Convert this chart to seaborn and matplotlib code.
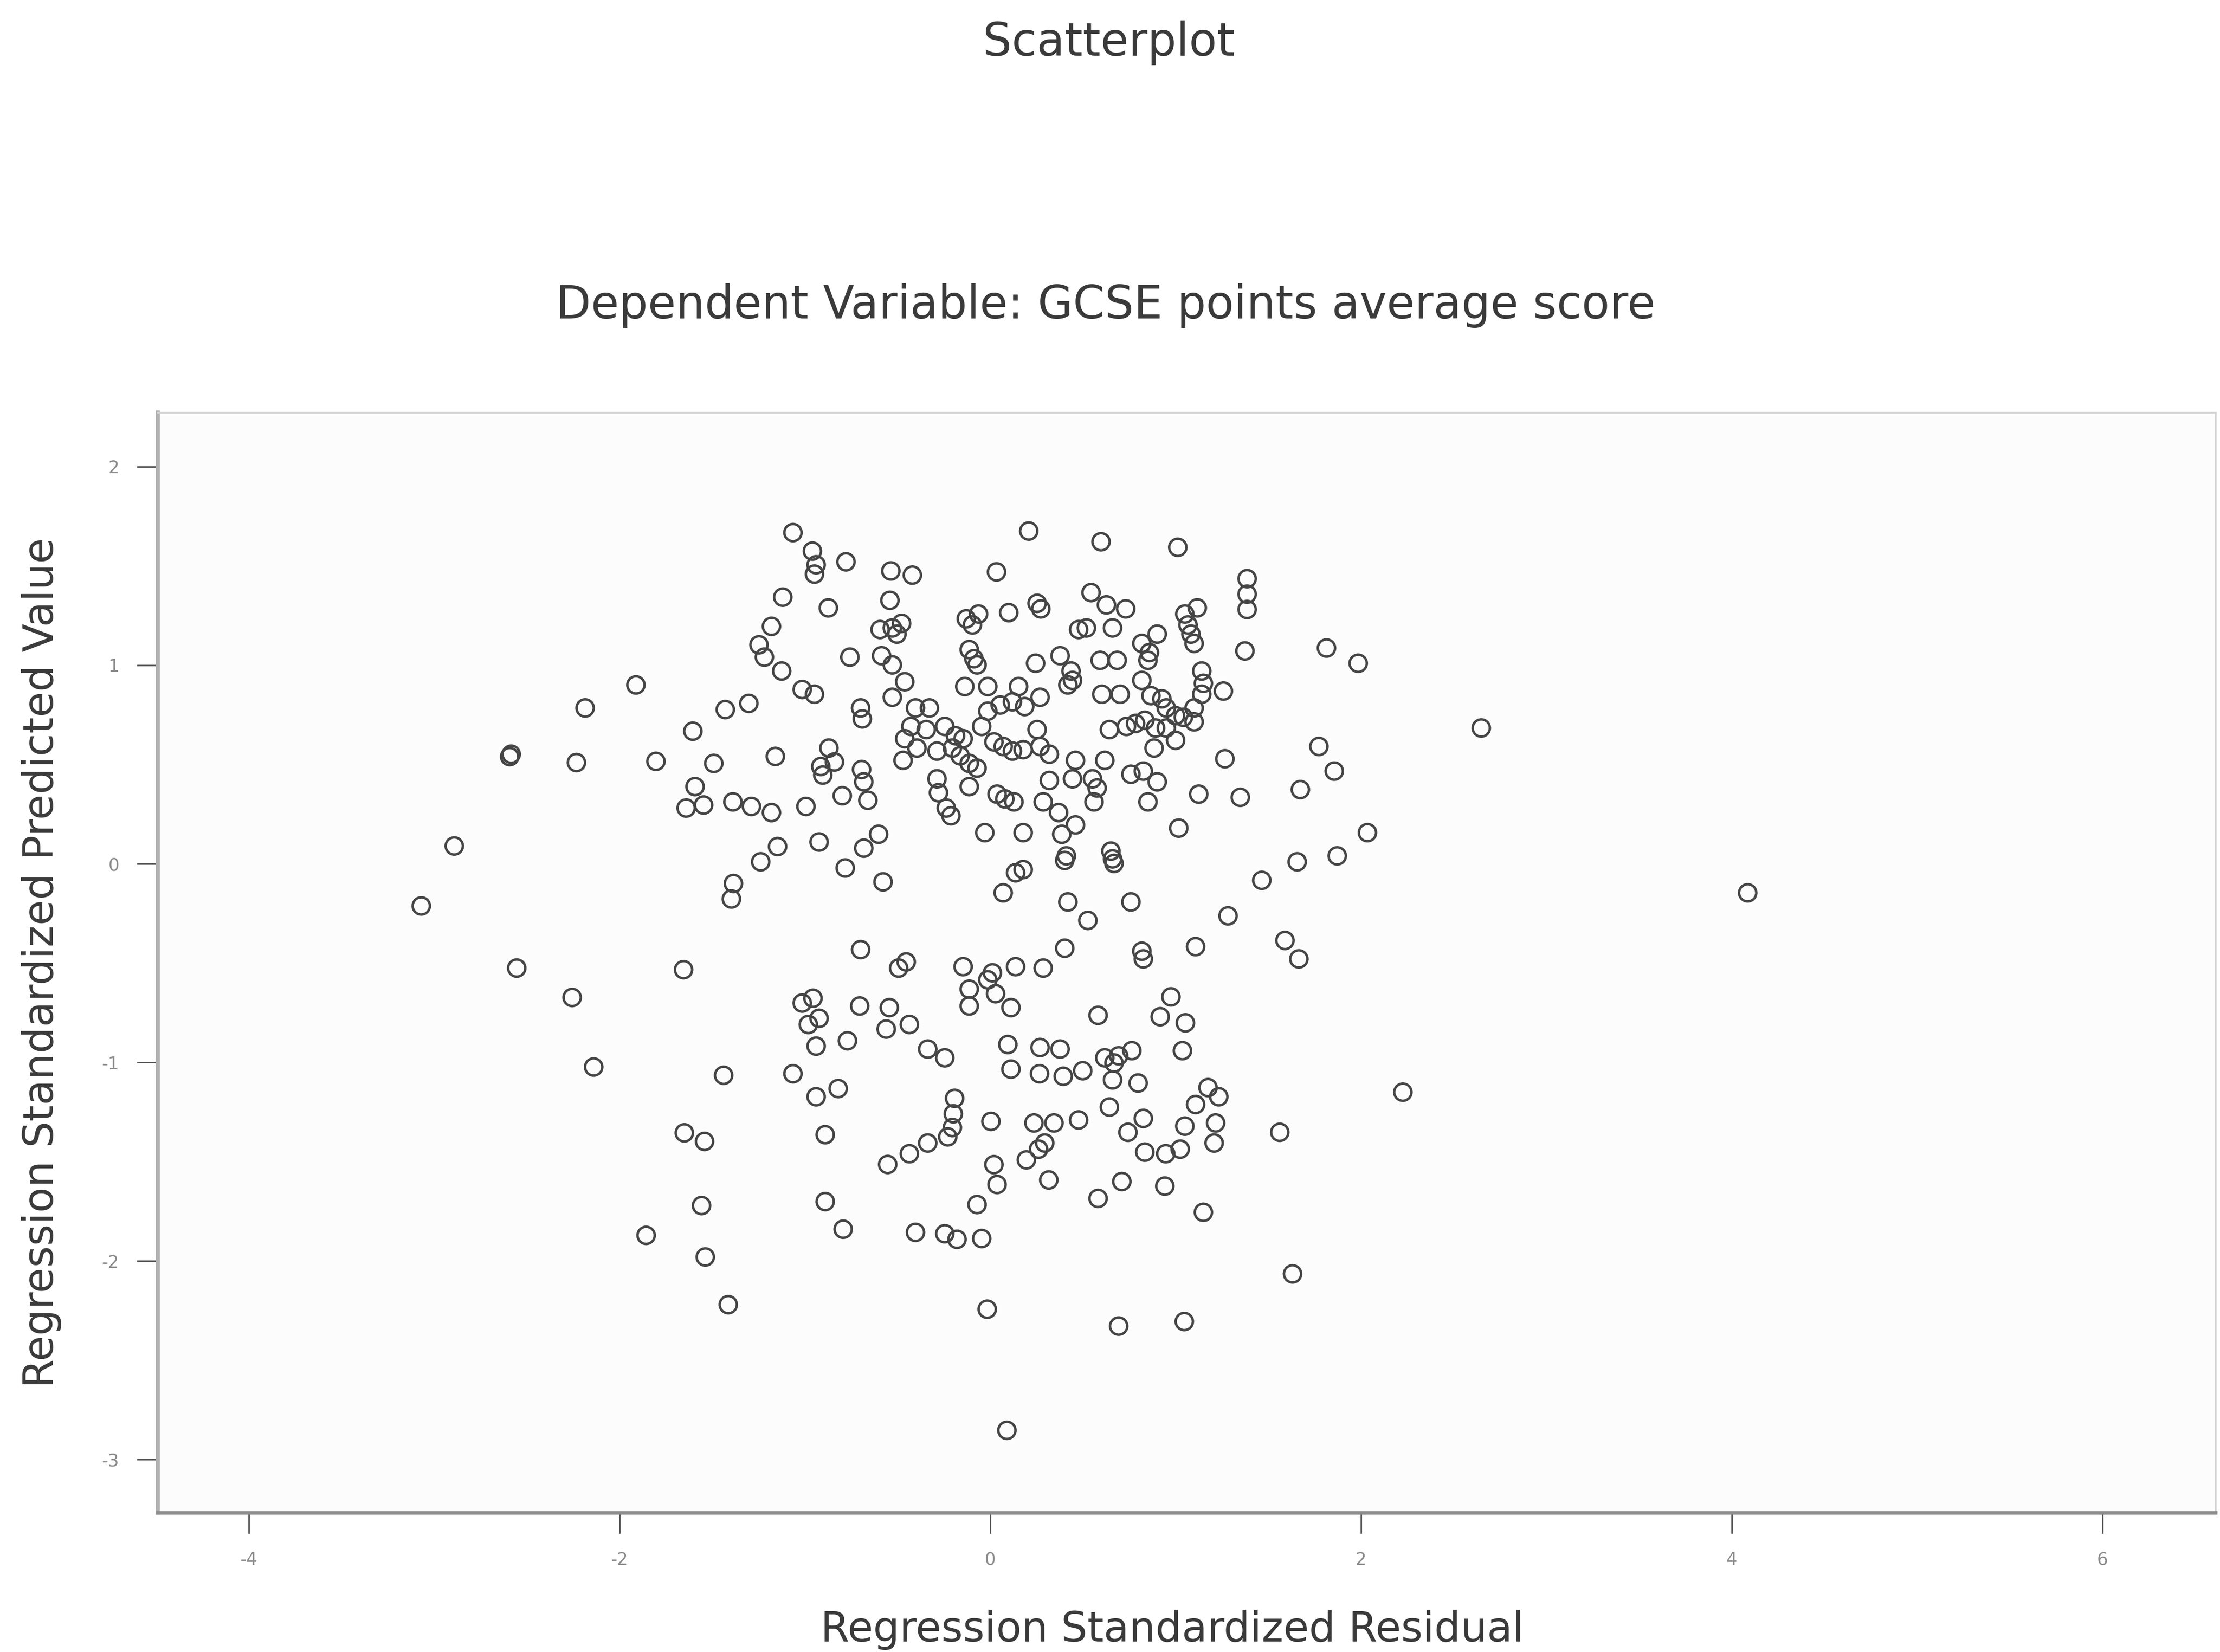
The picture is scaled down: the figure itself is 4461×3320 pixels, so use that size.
import matplotlib
matplotlib.use("Agg")
import matplotlib.pyplot as plt
import seaborn as sns
import pandas as pd

# Regression Standardized Residual (x) and Regression Standardized Predicted Value (y)
residual = [
    -1.064, -0.959, -0.939, -0.948, -0.778, -1.119, -0.873, -1.180, -1.247, -1.218,
    -1.125, -0.757, -1.014, -0.948, -0.699, -0.690, -1.911, -2.185, -1.429, -1.302,
    -1.604, -2.584, -2.592, -2.232, -1.803, -1.491, -1.159, -0.870, -0.840, -0.914,
    -0.903, -0.694, -0.682, -0.798, -0.660, -1.592, -1.640, -1.546, -1.388, -1.288,
    -1.180, -0.994, -1.147, -1.238, -0.923, -0.682, -0.782, -1.385, -1.396, -2.891,
    -3.069, -0.699, -2.554, -1.654,
    0.208, 0.598, 1.012, -0.536, -0.420, 0.034, 1.386, 1.386, 1.386, -0.541,
    0.544, 0.627, 0.731, 0.253, 0.273, 0.100, -0.129, -0.063, -0.096, -0.594,
    -0.528, -0.478, -0.503, 0.477, 0.519, 0.660, 1.050, 1.117, 1.067, 1.083,
    1.100, 1.374, 1.814, 0.901, 0.818, 0.859, 0.851, -0.113, -0.088, -0.071,
    -0.586, -0.528, 0.245, 0.377, 0.436, 0.444, 0.419, 0.593, 0.685, 1.141,
    1.150, 1.258, 1.141, -0.461, -0.528, -0.137, -0.013, 0.153, 0.269, 0.186,
    0.120, 0.054, -0.013, 0.602, 0.701, 0.818, 0.867, 0.926, 0.950, 1.000,
    1.100, 1.100, 1.042, -0.403, -0.328, -0.428, -0.345, -0.245, -0.187, -0.461,
    -0.395, -0.470, -0.287, -0.204, -0.162, -0.113, -0.071, -0.146, -0.046, 0.020,
    0.070, 0.120, 0.178, 0.253, 0.269, 0.319, 0.643, 0.735, 0.784, 0.834,
    0.892, 0.950, 1.000, 0.884, 0.460, 0.618, 1.266, 1.773, 1.856, 1.673,
    -0.287, -0.279, -0.237, -0.212, -0.113, 0.037, 0.079, 0.128, 0.319, 0.286,
    0.444, 0.552, 0.577, 0.560, 0.759, 0.826, 0.901, 0.851, 1.125, 1.349,
    0.369, 0.460, 0.386, 0.411, 0.402, 0.651, 0.668, 0.660, 1.017, -0.602,
    -0.029, 0.178, 0.178, 0.137, -0.578, 0.070, 0.419, 0.527, 0.759, 1.465,
    1.656, 1.872, 1.283, 1.108, 1.590, 1.665, 0.818, 0.826, 0.402, -0.453,
    -0.494, -0.146, 0.137, 0.286, 0.012,
    1.985, 2.649, 2.035, 4.086,
    -2.255, -2.139, -1.438, -1.064, -1.014, -0.956, -0.923, -0.981, -0.939, -0.704,
    -0.770, -0.939, -0.820, -0.890, -1.650, -1.541, -1.557, -1.856, -1.537, -1.413,
    -0.890, -0.793,
    -0.113, 0.029, 0.112, -0.113, -0.013, -0.544, -0.561, -0.436, -0.337, -0.245,
    0.095, 0.112, 0.269, 0.377, 0.266, 0.394, 0.499, 0.582, 0.975, 0.917,
    1.053, 1.037, 0.618, 0.693, 0.764, 0.668, 0.660, 0.798, 0.643, 1.175,
    1.233, 1.108, 1.050, 1.216, 1.208, 1.025, 0.947, 0.834, 0.743, 0.826,
    1.562, -0.192, -0.199, -0.204, -0.229, -0.337, -0.436, -0.553, 0.004, 0.236,
    0.344, 0.294, 0.195, 0.261, 0.477, 0.020, 0.037, 0.316, -0.071, 0.582,
    0.710, 0.942, 1.150, -0.403, -0.245, -0.179, -0.046, 1.631, -0.016, 0.693,
    1.047, 0.090,
    2.226,
]

predicted = [
    1.668, 1.575, 1.506, 1.459, 1.521, 1.343, 1.289, 1.196, 1.103, 1.041,
    0.971, 1.041, 0.878, 0.854, 0.785, 0.730, 0.901, 0.785, 0.777, 0.808,
    0.668, 0.552, 0.540, 0.510, 0.516, 0.506, 0.541, 0.583, 0.513, 0.490,
    0.447, 0.475, 0.413, 0.343, 0.320, 0.389, 0.281, 0.296, 0.312, 0.289,
    0.258, 0.289, 0.087, 0.010, 0.110, 0.079, -0.021, -0.099, -0.177, 0.090,
    -0.212, -0.432, -0.525, -0.533,
    1.676, 1.622, 1.594, 1.475, 1.454, 1.470, 1.436, 1.358, 1.281, 1.327,
    1.366, 1.304, 1.284, 1.312, 1.284, 1.265, 1.234, 1.258, 1.203, 1.180,
    1.188, 1.211, 1.157, 1.180, 1.188, 1.188, 1.258, 1.289, 1.203, 1.157,
    1.110, 1.072, 1.087, 1.157, 1.110, 1.064, 1.025, 1.079, 1.033, 1.002,
    1.048, 1.002, 1.010, 1.048, 0.971, 0.924, 0.901, 1.025, 1.025, 0.971,
    0.909, 0.870, 0.854, 0.917, 0.839, 0.893, 0.893, 0.893, 0.839, 0.792,
    0.816, 0.800, 0.769, 0.854, 0.854, 0.924, 0.847, 0.831, 0.785, 0.746,
    0.785, 0.715, 0.738, 0.785, 0.785, 0.692, 0.676, 0.692, 0.645, 0.630,
    0.583, 0.521, 0.568, 0.583, 0.544, 0.506, 0.482, 0.630, 0.692, 0.614,
    0.591, 0.568, 0.575, 0.676, 0.591, 0.552, 0.676, 0.692, 0.707, 0.723,
    0.684, 0.684, 0.622, 0.583, 0.521, 0.521, 0.529, 0.591, 0.467, 0.374,
    0.428, 0.358, 0.281, 0.242, 0.389, 0.351, 0.327, 0.312, 0.420, 0.312,
    0.428, 0.428, 0.382, 0.312, 0.451, 0.467, 0.413, 0.312, 0.351, 0.335,
    0.258, 0.196, 0.149, 0.040, 0.017, 0.064, 0.002, 0.025, 0.180, 0.149,
    0.157, 0.157, -0.029, -0.045, -0.091, -0.146, -0.192, -0.285, -0.192, -0.083,
    0.010, 0.040, -0.262, -0.417, -0.386, -0.479, -0.440, -0.479, -0.425, -0.494,
    -0.525, -0.518, -0.518, -0.525, -0.549,
    1.010, 0.684, 0.157, -0.146,
    -0.673, -1.023, -1.065, -1.057, -0.701, -0.677, -0.778, -0.809, -0.918, -0.716,
    -0.891, -1.173, -1.132, -1.364, -1.355, -1.398, -1.721, -1.871, -1.980, -2.220,
    -1.701, -1.840,
    -0.631, -0.654, -0.724, -0.716, -0.584, -0.724, -0.832, -0.809, -0.933, -0.977,
    -0.910, -1.034, -0.925, -0.933, -1.057, -1.070, -1.042, -0.763, -0.670, -0.770,
    -0.801, -0.941, -0.977, -0.967, -0.941, -1.003, -1.088, -1.104, -1.225, -1.127,
    -1.173, -1.212, -1.321, -1.305, -1.406, -1.437, -1.460, -1.452, -1.352, -1.282,
    -1.352, -1.181, -1.259, -1.328, -1.375, -1.406, -1.460, -1.514, -1.297, -1.305,
    -1.305, -1.406, -1.491, -1.437, -1.290, -1.515, -1.615, -1.592, -1.716, -1.685,
    -1.600, -1.623, -1.755, -1.856, -1.863, -1.891, -1.887, -2.065, -2.243, -2.328,
    -2.305, -2.853,
    -1.150,
]

x_ticks = [-4, -2, 0, 2, 4, 6]
y_ticks = [-3, -2, -1, 0, 1, 2]

title_text = "Scatterplot"
subtitle_text = "Dependent Variable: GCSE points average score"
x_label = "Regression Standardized Residual"
y_label = "Regression Standardized Predicted Value"

df = pd.DataFrame({"resid": residual, "pred": predicted})

sns.set_theme(style="white")
plt.rcParams["font.family"] = ["DejaVu Sans"]

fig = plt.figure(figsize=(44.61, 33.2), dpi=100)
fig.patch.set_facecolor("white")
ax = fig.add_axes([0.0711, 0.0843, 0.9269, 0.666])
ax.set_facecolor("#fcfcfc")

sns.scatterplot(data=df, x="resid", y="pred", ax=ax, marker="o", s=620,
                facecolors="none", edgecolor="#454545", linewidth=3.6,
                legend=False, zorder=3)
pts = ax.collections[0]
pts.set_facecolor("none")
pts.set_edgecolor("#454545")
pts.set_linewidth(3.6)

ax.set_xlim(-4.49, 6.61)
ax.set_ylim(-3.268, 2.273)
ax.set_xticks(x_ticks)
ax.set_yticks(y_ticks)
ax.set_xticklabels([str(t) for t in x_ticks])
ax.set_yticklabels([str(t) for t in y_ticks])
ax.tick_params(axis="both", which="major", direction="out", length=30, width=2.2,
               color="#555555", labelsize=25, labelcolor="#8a8a8a", pad=26)
ax.tick_params(axis="x", bottom=True, top=False)
ax.tick_params(axis="y", left=True, right=False)

for side in ["top", "right"]:
    ax.spines[side].set_color("#d4d4d4")
    ax.spines[side].set_linewidth(2.5)
ax.spines["left"].set_color("#b0b0b0")
ax.spines["left"].set_linewidth(6)
ax.spines["bottom"].set_color("#8c8c8c")
ax.spines["bottom"].set_linewidth(5)

ax.set_xlabel(x_label, fontsize=60, color="#3a3a3a", labelpad=60)
ax.xaxis.label.set_x(0.493)
ax.set_ylabel(y_label, fontsize=60, color="#3a3a3a", labelpad=58)

fig.text(0.4994, 0.974, title_text, ha="center", va="center", fontsize=66, color="#3a3a3a")
fig.text(0.498, 0.815, subtitle_text, ha="center", va="center", fontsize=66, color="#3a3a3a")

fig.savefig("out.png", dpi=100, facecolor="white")
